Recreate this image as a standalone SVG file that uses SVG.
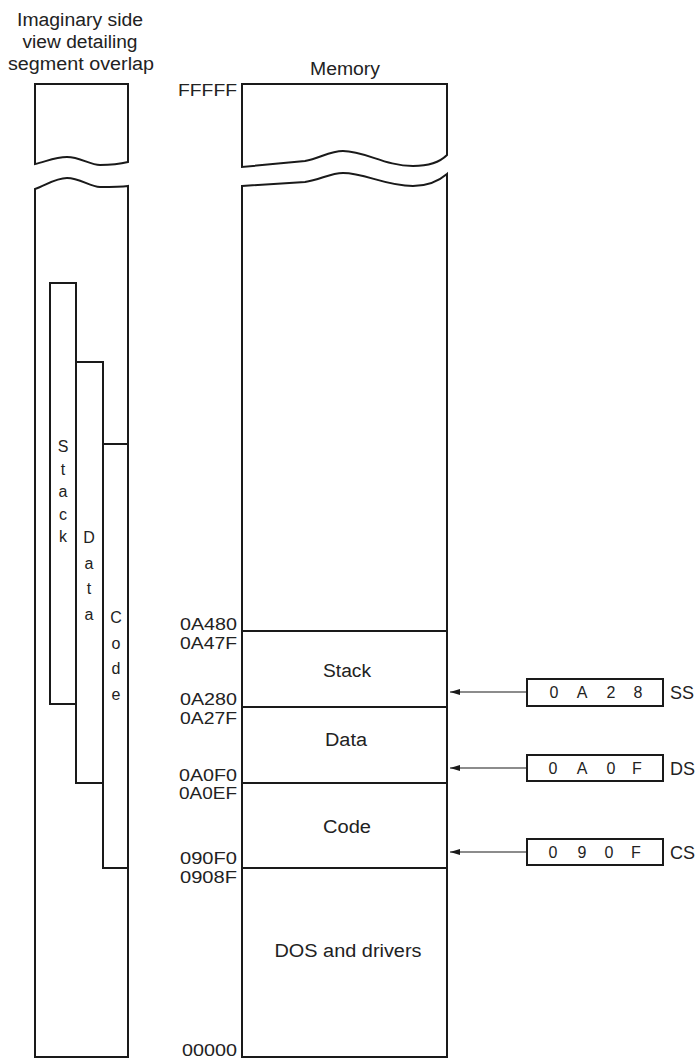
<svg xmlns="http://www.w3.org/2000/svg" width="697" height="1060" viewBox="0 0 697 1060">
<style>
.ln{fill:none;stroke:#1a1a1a;stroke-width:2;stroke-linejoin:miter}
.bx{fill:#fff;stroke:#1a1a1a;stroke-width:2}
.t{font-family:"Liberation Sans",Arial,sans-serif;fill:#222}
.lbl{font-size:18px;text-anchor:middle}
.addr{font-size:17px;text-anchor:end}
.ch{font-size:16px;text-anchor:middle}
.reg{font-size:16px;text-anchor:middle}
.conn{stroke:#1a1a1a;stroke-width:1.2;fill:none}
</style>
<defs>
<marker id="ah" markerWidth="10" markerHeight="6" refX="10" refY="3" orient="auto" markerUnits="userSpaceOnUse"><path d="M0,0 L10,3 L0,6 Z" fill="#1a1a1a"/></marker>
</defs>
<rect width="697" height="1060" fill="#fff"/>

<g id="side-view">
<text class="t lbl" x="80" y="26" textLength="126" lengthAdjust="spacingAndGlyphs">Imaginary side</text>
<text class="t lbl" x="80" y="48" textLength="115" lengthAdjust="spacingAndGlyphs">view detailing</text>
<text class="t lbl" x="81" y="70" textLength="146" lengthAdjust="spacingAndGlyphs">segment overlap</text>
<path class="ln" d="M35,164 L35,84 L128,84 L128,162 C120,164 112,165 100,165 C90,165 80,157 67,157 C55,157 45,162 35,164 Z"/>
<path class="ln" d="M35,189 C45,186 55,178 67,178 C80,178 90,187 100,187 C112,187 120,187 128,186 L128,1057 L35,1057 Z"/>
</g>

<g id="stack-bar">
<rect class="bx" x="50" y="283" width="26" height="421"/>
<text class="t ch" x="63" y="452">S</text>
<text class="t ch" x="63" y="474.5">t</text>
<text class="t ch" x="63" y="497">a</text>
<text class="t ch" x="63" y="519.5">c</text>
<text class="t ch" x="63" y="542">k</text>
</g>
<g id="data-bar">
<rect class="bx" x="76" y="362" width="27" height="421"/>
<text class="t ch" x="89" y="543">D</text>
<text class="t ch" x="89" y="568.5">a</text>
<text class="t ch" x="89" y="594">t</text>
<text class="t ch" x="89" y="620">a</text>
</g>
<g id="code-bar">
<rect class="bx" x="103" y="444" width="25" height="424"/>
<text class="t ch" x="116" y="623">C</text>
<text class="t ch" x="116" y="649">o</text>
<text class="t ch" x="116" y="674">d</text>
<text class="t ch" x="116" y="700">e</text>
</g>

<g id="memory">
<text class="t lbl" x="345" y="75" textLength="70" lengthAdjust="spacingAndGlyphs">Memory</text>
<path class="ln" d="M242,167 L242,84 L447,84 L447,155 C440,162 430,166 413,166 C385,166 365,151 343,151 C330,151 320,158 305,161 Z"/>
<path class="ln" d="M242,186 L305,182 C320,180 330,173 343,173 C365,173 385,186 413,186 C430,186 440,180 447,174 L447,1057 L242,1057 Z"/>
</g>

<g id="mem-free">
<line class="ln" x1="242" y1="631" x2="447" y2="631"/>
</g>
<g id="mem-stack">
<text class="t lbl" x="347" y="677" textLength="48" lengthAdjust="spacingAndGlyphs">Stack</text>
<line class="ln" x1="242" y1="707" x2="447" y2="707"/>
</g>
<g id="mem-data">
<text class="t lbl" x="346" y="746" textLength="42" lengthAdjust="spacingAndGlyphs">Data</text>
<line class="ln" x1="242" y1="783" x2="447" y2="783"/>
</g>
<g id="mem-code">
<text class="t lbl" x="347" y="833" textLength="48" lengthAdjust="spacingAndGlyphs">Code</text>
<line class="ln" x1="242" y1="868" x2="447" y2="868"/>
</g>
<g id="mem-dos">
<text class="t lbl" x="348" y="957" textLength="147" lengthAdjust="spacingAndGlyphs">DOS and drivers</text>
</g>

<g id="addresses">
<text class="t addr" x="237" y="96" textLength="59" lengthAdjust="spacingAndGlyphs">FFFFF</text>
<text class="t addr" x="237" y="630" textLength="57" lengthAdjust="spacingAndGlyphs">0A480</text>
<text class="t addr" x="237" y="649" textLength="57" lengthAdjust="spacingAndGlyphs">0A47F</text>
<text class="t addr" x="237" y="705" textLength="57" lengthAdjust="spacingAndGlyphs">0A280</text>
<text class="t addr" x="237" y="724" textLength="57" lengthAdjust="spacingAndGlyphs">0A27F</text>
<text class="t addr" x="237" y="781" textLength="58" lengthAdjust="spacingAndGlyphs">0A0F0</text>
<text class="t addr" x="237" y="799" textLength="58" lengthAdjust="spacingAndGlyphs">0A0EF</text>
<text class="t addr" x="237" y="864" textLength="57" lengthAdjust="spacingAndGlyphs">090F0</text>
<text class="t addr" x="237" y="883" textLength="57" lengthAdjust="spacingAndGlyphs">0908F</text>
<text class="t addr" x="237" y="1056" textLength="55" lengthAdjust="spacingAndGlyphs">00000</text>
</g>

<g id="reg-ss">
<rect class="bx" x="527" y="679" width="136" height="27"/>
<text class="t reg" x="554" y="698">0</text>
<text class="t reg" x="582" y="698">A</text>
<text class="t reg" x="611" y="698">2</text>
<text class="t reg" x="638" y="698">8</text>
<text class="t" x="670" y="699" font-size="18">SS</text>
</g>
<g id="reg-ds">
<rect class="bx" x="527" y="755" width="136" height="26"/>
<text class="t reg" x="553" y="774">0</text>
<text class="t reg" x="582" y="774">A</text>
<text class="t reg" x="611" y="774">0</text>
<text class="t reg" x="637" y="774">F</text>
<text class="t" x="670" y="775" font-size="18">DS</text>
</g>
<g id="reg-cs">
<rect class="bx" x="527" y="839" width="136" height="26"/>
<text class="t reg" x="553" y="858">0</text>
<text class="t reg" x="582" y="858">9</text>
<text class="t reg" x="609" y="858">0</text>
<text class="t reg" x="636" y="858">F</text>
<text class="t" x="670" y="859" font-size="18">CS</text>
</g>

<g id="connectors">
<line class="conn" x1="527" y1="692" x2="450" y2="692" marker-end="url(#ah)"/>
<line class="conn" x1="527" y1="768" x2="450" y2="768" marker-end="url(#ah)"/>
<line class="conn" x1="527" y1="852" x2="450" y2="852" marker-end="url(#ah)"/>
</g>
</svg>
